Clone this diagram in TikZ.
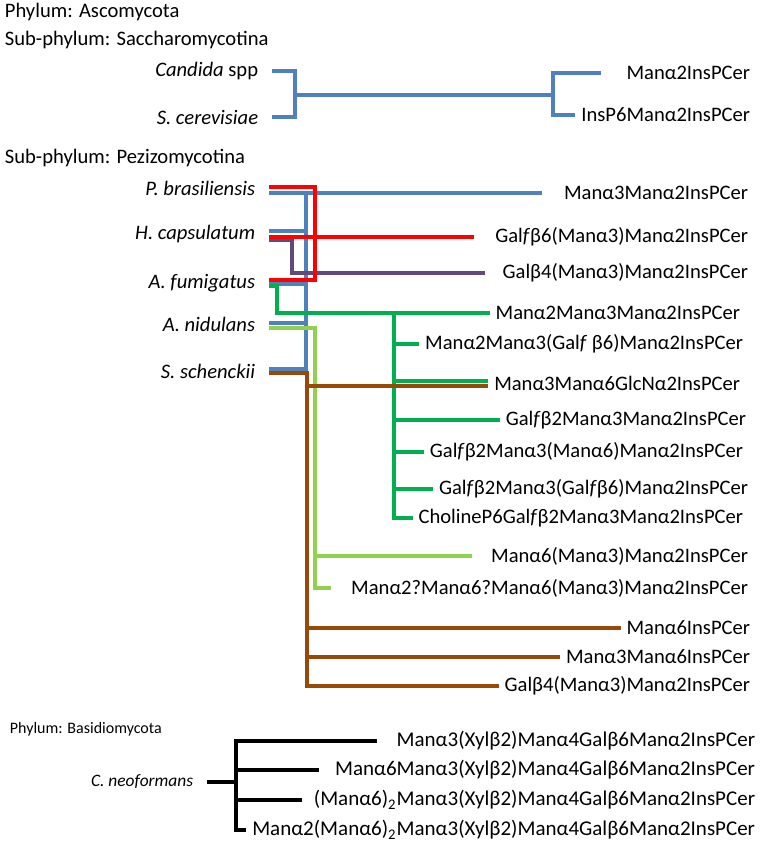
\documentclass[tikz,border=0pt]{standalone}
\usepackage{fontspec}
\setmainfont{Carlito}

\definecolor{treeblue}{RGB}{79,129,189}
\definecolor{treered}{RGB}{255,0,0}
\definecolor{treepurple}{RGB}{96,73,123}
\definecolor{treegreen}{RGB}{0,176,80}
\definecolor{treelime}{RGB}{146,208,80}
\definecolor{treebrown}{RGB}{152,72,7}
\newcommand\labelsize{\fontsize{10.3}{12.4}\selectfont}

\begin{document}
\begin{tikzpicture}[
  x=0.5pt, y=-0.5pt,
  every node/.style={inner sep=0pt, font=\labelsize},
  head/.style={anchor=west},
  small head/.style={anchor=west, font=\fontsize{8}{10}\selectfont},
  species/.style={anchor=east, inner xsep=6pt, font=\labelsize\itshape},
  sugar/.style={anchor=east, inner xsep=2pt},
  basidio/.style={sugar, font=\fontsize{10.5}{12.6}\selectfont},
  gap/.style={shorten >=#1},
  every path/.style={line width=1.9pt},
  ]
  \useasboundingbox (0,0) rectangle (767,845);

  \node[head] (asc) at (3,12) {Phylum: Ascomycota};
  \node[head] (sac) at (3,40) {Sub-phylum: Saccharomycotina};
  \node[species] (ca) at (272,71) {Candida \textup{spp}};
  \node[species] (sc) at (272,117) {S. cerevisiae};
  \node[sugar] (s1) at (756,73) {Manα2InsPCer};
  \node[sugar] (s2) at (756,115) {InsP6Manα2InsPCer};
  \draw[treeblue] (ca.east) -| (295,117) -- (sc.east);
  \draw[treeblue] (295,95) -- (553,95);
  \draw[treeblue, shorten <=10pt] (s1.west) -| (553,115) -- (s2.west);

  \node[head] (pez) at (3,158) {Sub-phylum: Pezizomycotina};
  \node[species] (pb) at (269,188) {P. brasiliensis};
  \node[species] (hc) at (269,234) {H. capsulatum};
  \node[species] (af) at (269,283) {A. fumigatus};
  \node[species] (an) at (269,324) {A. nidulans};
  \node[species] (ss) at (269,371) {S. schenckii};

  \node[sugar] (p1) at (754,193) {Manα3Manα2InsPCer};
  \node[sugar] (p2) at (754,237) {Gal\textit{f}β6(Manα3)Manα2InsPCer};
  \node[sugar] (p3) at (754,273) {Galβ4(Manα3)Manα2InsPCer};
  \node[sugar] (p4) at (746,313) {Manα2Manα3Manα2InsPCer};
  \node[sugar] (p5) at (749,344) {Manα2Manα3(Gal\textit{f} β6)Manα2InsPCer};
  \node[sugar] (p6) at (746,383) {Manα3Manα6GlcNα2InsPCer};
  \node[sugar] (p7) at (752,420) {Gal\textit{f}β2Manα3Manα2InsPCer};
  \node[sugar] (p8) at (749,452) {Gal\textit{f}β2Manα3(Manα6)Manα2InsPCer};
  \node[sugar] (p9) at (754,489) {Gal\textit{f}β2Manα3(Gal\textit{f}β6)Manα2InsPCer};
  \node[sugar] (p10) at (749,518) {CholineP6Gal\textit{f}β2Manα3Manα2InsPCer};
  \node[sugar] (p11) at (754,556) {Manα6(Manα3)Manα2InsPCer};
  \node[sugar] (p12) at (754,588) {Manα2?Manα6?Manα6(Manα3)Manα2InsPCer};
  \node[sugar] (p13) at (756,628) {Manα6InsPCer};
  \node[sugar] (p14) at (756,657) {Manα3Manα6InsPCer};
  \node[sugar] (p15) at (756,686) {Galβ4(Manα3)Manα2InsPCer};

  \draw[treeblue, gap=8pt] ([yshift=-2.5pt]pb.east) -- (p1.west);
  \draw[treeblue] ([yshift=1pt]ss.east) -| (306,193);
  \path[draw=treeblue]
  ([yshift=1.5pt]hc.east) -- (306,231)
  ([yshift=-0.5pt]af.east) -- (306,284)
  ([yshift=0.5pt]an.east) -- (306,323);

  \draw[treegreen] ([yshift=-1.5pt]af.east) -| (277,313) -- (p4.west);
  \draw[treegreen] (394,313) |- (p10.west);
  \path[draw=treegreen]
  (394,344) -- (p5.west)
  (394,381) -- ([yshift=1pt]p6.west)
  (394,420) -- (p7.west)
  (394,452) -- (p8.west)
  (394,489) -- (p9.west);

  \draw[treelime, gap=7pt] ([yshift=-2pt]an.east) -| (315,588) -- (p12.west);
  \draw[treelime, gap=6.5pt] (315,556) -- (p11.west);

  \draw[treebrown] ([yshift=-1pt]ss.east) -| (307,686) -- (p15.west);
  \path[draw=treebrown]
  (307,386) -- ([yshift=-1.5pt]p6.west)
  (307,628) -- (p13.west)
  (307,657) -- (p14.west);

  \draw[treepurple, gap=6pt] ([yshift=-3pt]hc.east) -| (292,273) -- (p3.west);

  \draw[treered] ([yshift=0.5pt]pb.east) -| (315,280) -- ([yshift=1.5pt]af.east);
  \draw[treered, gap=7.5pt] ([yshift=-1.5pt]hc.east) -- (p2.west);

  \node[small head] (bas) at (8,729) {Phylum: Basidiomycota};
  \node[species, font=\fontsize{8.7}{10}\selectfont\itshape] (cn) at (207,782) {C. neoformans};
  \node[basidio] (b1) at (761,741) {Manα3(Xylβ2)Manα4Galβ6Manα2InsPCer};
  \node[basidio] (b2) at (761,770) {Manα6Manα3(Xylβ2)Manα4Galβ6Manα2InsPCer};
  \node[basidio] (b3) at (761,800) {(Manα6)\textsubscript{2}Manα3(Xylβ2)Manα4Galβ6Manα2InsPCer};
  \node[basidio] (b4) at (761,830) {Manα2(Manα6)\textsubscript{2}Manα3(Xylβ2)Manα4Galβ6Manα2InsPCer};
  \draw (cn.east) -- (236,782);
  \draw[shorten <=7pt] (b1.west) -| (236,830) -- (b4.west);
  \path[draw]
  (236,770) -- ([xshift=-5pt]b2.west)
  (236,800) -- ([xshift=-3pt]b3.west);
\end{tikzpicture}
\end{document}
